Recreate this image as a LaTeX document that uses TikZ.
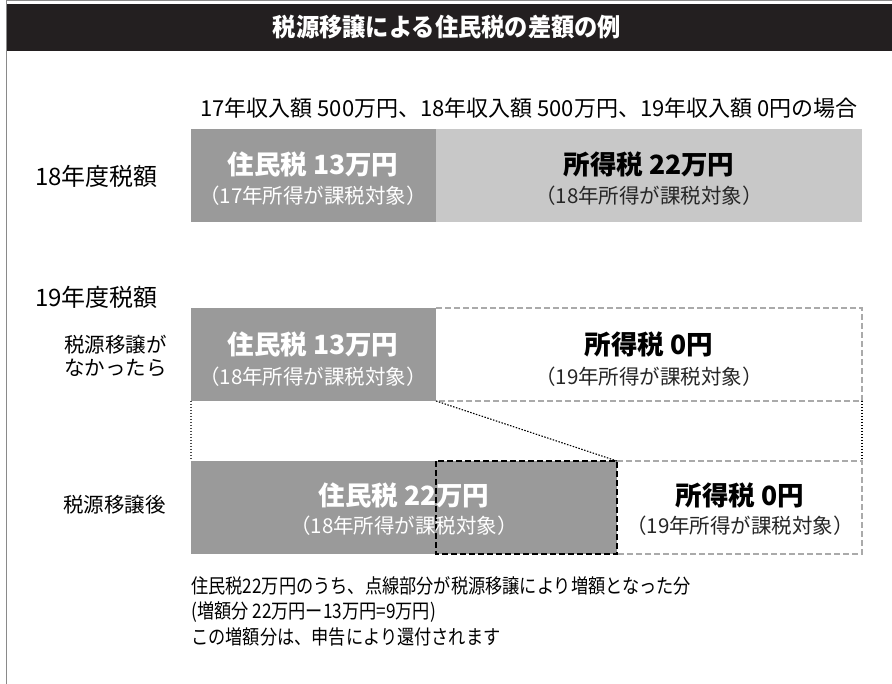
\documentclass[tikz,border=0pt]{standalone}
\usepackage{fontspec}
\usepackage{graphicx}
\setmainfont{Noto Sans CJK JP}
\usetikzlibrary{calc}
\definecolor{hdr}{HTML}{231F20}
\definecolor{gA}{HTML}{9A9A9A}
\definecolor{gB}{HTML}{C8C8C8}
\definecolor{gL}{HTML}{AAAAAA}
\definecolor{frame}{HTML}{8A8A8A}
\newcommand{\fs}[1]{\fontsize{#1}{#1}\selectfont}
\tikzset{
  bar/.style={inner sep=0pt, outer sep=0pt, anchor=north west, minimum height=93pt},
  big/.style={inner sep=0pt, font=\fs{26.5}\bfseries},
  small/.style={inner sep=0pt, font=\fs{20.5}},
  lbl/.style={inner sep=0pt, font=\fs{24}},
  lbls/.style={inner sep=0pt, font=\fs{20.5}, align=right},
  graydash/.style={draw=gL, line width=2.2pt, dash pattern=on 6pt off 3pt},
  dotline/.style={line width=1.4pt, dash pattern=on 1.5pt off 1.5pt},
  blackdash/.style={draw=black, line width=2.8pt, dash pattern=on 6pt off 3pt},
}
\begin{document}
\begin{tikzpicture}[x=1pt,y=-1pt]
\useasboundingbox (0,0) rectangle (892,684);
% frame and header
\draw[frame, line width=1.5pt] (6.5,1) -- (6.5,684);
\draw[frame, line width=1pt] (6,1) -- (892,1);
\node[inner sep=0pt, outer sep=0pt, fill=hdr, anchor=north west, minimum width=885pt, minimum height=47pt] (hdr) at (7,4) {};
\node[inner sep=0pt, text=white, font=\fs{25}\bfseries] (title) at (447,27) {\scalebox{0.93}[1]{税源移譲による住民税の差額の例}};
% intro line
\node[lbl, font=\fs{22}] (intro) at (529,108) {17年収入額 500万円、18年収入額 500万円、19年収入額 0円の場合};
% row labels
\node[lbl, anchor=west] (y18) at (35,176) {18年度税額};
\node[lbl, anchor=west] (y19) at (35,297) {19年度税額};
\node[lbls, anchor=east] (nolabel) at (167,356) {税源移譲が\\[3pt]なかったら};
\node[lbls, anchor=east] (after) at (166,505) {税源移譲後};
% bar 1
\node[bar, fill=gA, minimum width=245pt] (b1l) at (191,129) {};
\node[bar, fill=gB, minimum width=426pt] (b1r) at (436,129) {};
\node[big, text=white] (t1a) at (313,164) {住民税 13万円};
\node[small, text=white] (t1b) at (313,196) {（17年所得が課税対象）};
\node[big, text=black] (t1c) at (649,164) {所得税 22万円};
\node[small, text=black!85] (t1d) at (649,196) {（18年所得が課税対象）};
% bar 2
\node[bar, fill=white, minimum width=426pt] (b2r) at (436,308) {};
\draw[graydash] (b2r.north west) -- (b2r.north east) -- (b2r.south east) -- (b2r.south west);
\node[bar, fill=gA, minimum width=245pt] (b2l) at (191,308) {};
\node[big, text=white] (t2a) at (313,344) {住民税 13万円};
\node[small, text=white] (t2b) at (313,377) {（18年所得が課税対象）};
\node[big, text=black] (t2c) at (649,344) {所得税 0円};
\node[small, text=black!85] (t2d) at (649,377) {（19年所得が課税対象）};
% bar 3
\node[bar, fill=white, minimum width=245pt] (b3r) at (617,461) {};
\draw[graydash] (b3r.north west) -- (b3r.north east) -- (b3r.south east) -- (b3r.south west);
\node[bar, fill=gA, minimum width=426pt] (b3l) at (191,461) {};
\node[bar, minimum width=181pt] (inc) at (436,461) {};
\draw[blackdash] (inc.north west) rectangle (inc.south east);
\node[big, text=white] (t3a) at (404,495) {住民税 22万円};
\node[small, text=white] (t3b) at (404,526) {（18年所得が課税対象）};
\node[big, text=black] (t3c) at (740,495) {所得税 0円};
\node[small, text=black!85] (t3d) at (740,526) {（19年所得が課税対象）};
% connectors between bar 2 and bar 3
\draw[dotline, draw=black!70] (b2l.south west) -- (b3l.north west);
\draw[dotline, draw=black] (b2r.south east) -- (b3r.north east);
\draw[dotline, draw=black, line width=1.1pt] (b2l.south east) -- (inc.north east);
% notes
\node[inner sep=0pt, anchor=north west, align=left, font=\fs{20}] (note) at (191,576) {%
\scalebox{0.86}[1]{住民税22万円のうち、点線部分が税源移譲により増額となった分}\\[5pt]
\scalebox{0.86}[1]{(増額分 22万円ー13万円=9万円)}\\[5pt]
\scalebox{0.86}[1]{この増額分は、申告により還付されます}};
\end{tikzpicture}
\end{document}
